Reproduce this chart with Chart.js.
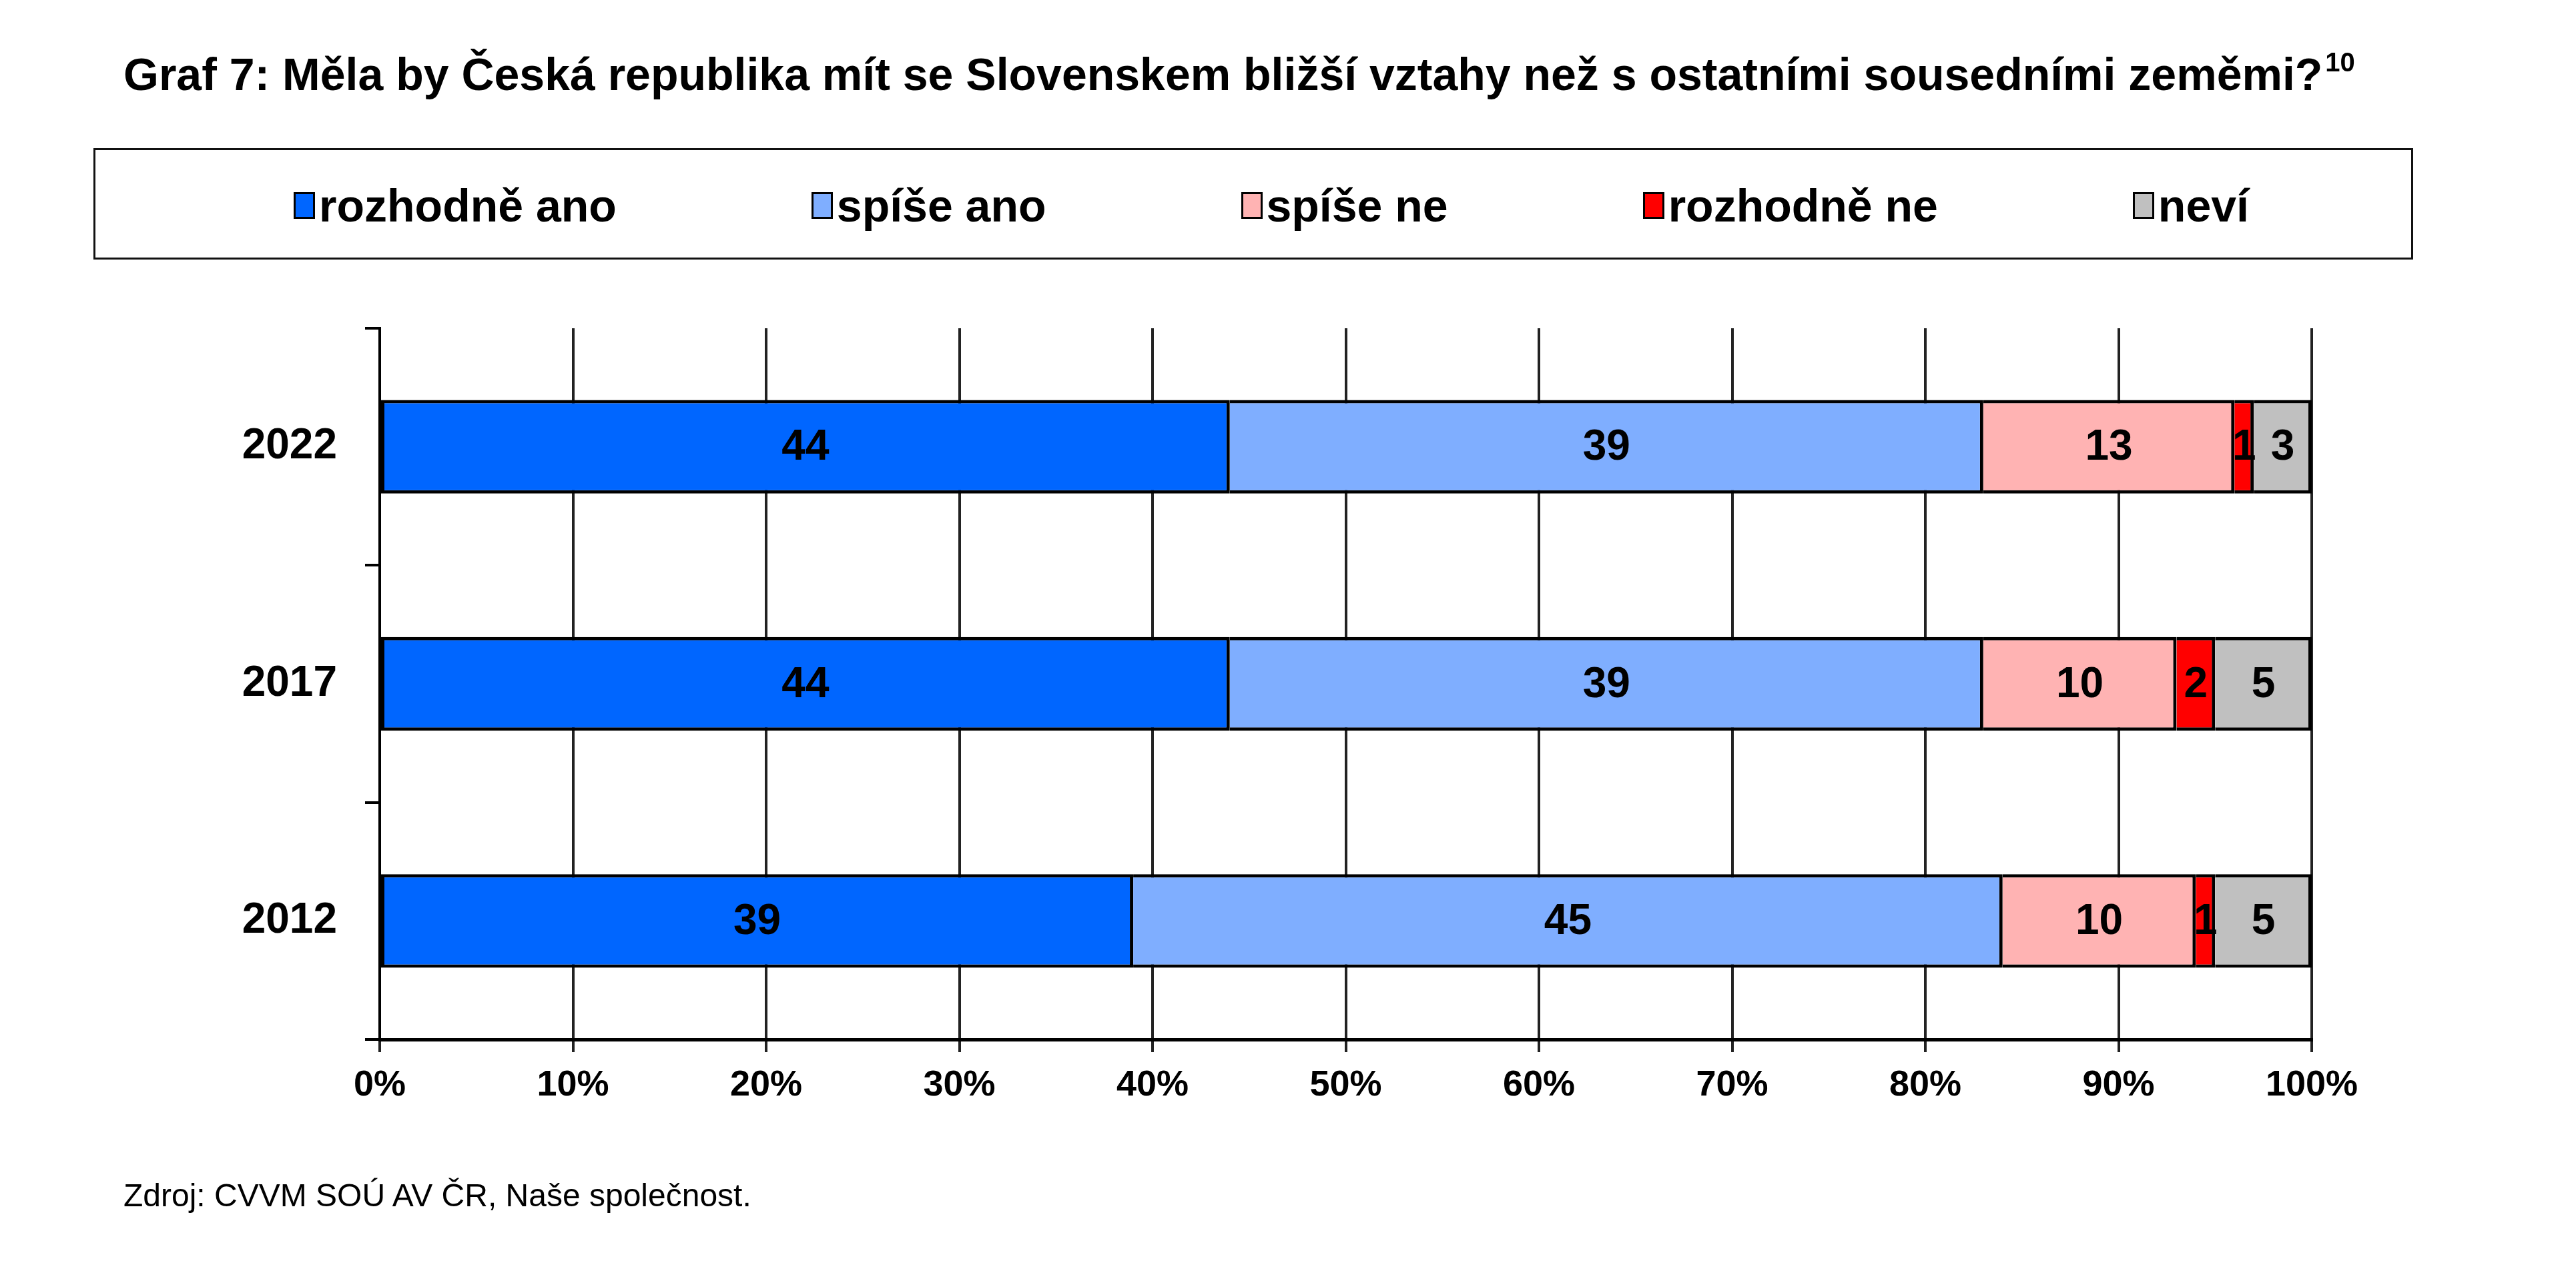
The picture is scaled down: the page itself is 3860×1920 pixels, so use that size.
<!DOCTYPE html>
<html>
<head>
<meta charset="utf-8">
<script src="https://cdn.jsdelivr.net/npm/chart.js@4"></script>
<style>
  body { margin: 0; background: #fff; font-family: "Liberation Sans", Arial, sans-serif; }
  #wrap { position: relative; width: 3860px; height: 1920px; }
  #chart { position: absolute; left: 0; top: 0; }
  #title { position: absolute; left: 185px; top: 77px; font-size: 68px; font-weight: bold; line-height: 1; white-space: nowrap; }
  #title sup { font-size: 40px; vertical-align: 28px; line-height: 0; margin-left: 4px; }
  #legend { position: absolute; left: 140px; top: 222px; width: 3476px; height: 167px; border: 3px solid #111;
            display: flex; align-items: center; justify-content: center; padding-left: 54px; padding-top: 4px; box-sizing: border-box; }
  .item { display: flex; align-items: center; font-size: 68px; font-weight: bold; margin-right: 292px; white-space: nowrap; }
  .item:last-child { margin-right: 0; }
  .box { width: 26px; height: 34px; border: 3px solid #000; margin-right: 6px; }
  #source { position: absolute; left: 185px; top: 1768px; font-size: 48px; line-height: 1; white-space: nowrap; }
</style>
</head>
<body>
<div id="wrap">
  <canvas id="chart" width="3860" height="1920"></canvas>
  <div id="title">Graf 7: Měla by Česká republika mít se Slovenskem bližší vztahy než s ostatními sousedními zeměmi?<sup>10</sup></div>
  <div id="legend"></div>
  <div id="source">Zdroj: CVVM SOÚ AV ČR, Naše společnost.</div>
</div>
<script>
const years = ['2022', '2017', '2012'];
const seriesNames = ['rozhodně ano', 'spíše ano', 'spíše ne', 'rozhodně ne', 'neví'];
const rozhodneAno = [44, 44, 39];
const spiseAno = [39, 39, 45];
const spiseNe = [13, 10, 10];
const rozhodneNe = [1, 2, 1];
const nevi = [3, 5, 5];
const colors = ['#0066FF', '#7FAEFF', '#FFB3B3', '#FF0000', '#C0C0C0'];
const tickValues = [0, 10, 20, 30, 40, 50, 60, 70, 80, 90, 100];

const allSeries = [rozhodneAno, spiseAno, spiseNe, rozhodneNe, nevi];

// legend in html, built from the same arrays
const legendEl = document.getElementById('legend');
seriesNames.forEach((name, i) => {
    const item = document.createElement('div');
    item.className = 'item';
    const box = document.createElement('div');
    box.className = 'box';
    box.style.background = colors[i];
    item.appendChild(box);
    item.appendChild(document.createTextNode(name));
    legendEl.appendChild(item);
});

const valueLabels = {
    id: 'valueLabels',
    afterDatasetsDraw(chart) {
        const ctx = chart.ctx;
        ctx.save();
        ctx.font = 'bold 64px "Liberation Sans", Arial, sans-serif';
        ctx.fillStyle = '#000';
        ctx.textAlign = 'center';
        ctx.textBaseline = 'middle';
        chart.data.datasets.forEach((ds, i) => {
            chart.getDatasetMeta(i).data.forEach((bar, j) => {
                const p = bar.getCenterPoint();
                ctx.fillText(ds.data[j], p.x, p.y + 2);
            });
        });
        ctx.restore();
    }
};

const datasets = allSeries.map((values, i) => ({
    label: seriesNames[i],
    data: values,
    backgroundColor: colors[i],
    borderColor: '#000',
    borderWidth: { top: 5, bottom: 5, right: 5, left: i === 0 ? 5 : 0 },
    borderSkipped: false,
    barPercentage: 0.395,
    categoryPercentage: 1
}));

const ctx = document.getElementById('chart').getContext('2d');
new Chart(ctx, {
    type: 'bar',
    data: { labels: years, datasets: datasets },
    plugins: [valueLabels],
    options: {
        indexAxis: 'y',
        responsive: false,
        animation: false,
        layout: { padding: { top: 492, left: 319, right: 396, bottom: 212 } },
        plugins: {
            legend: { display: false },
            tooltip: { enabled: false }
        },
        scales: {
            x: {
                stacked: true,
                min: 0,
                max: 100,
                afterBuildTicks: (scale) => { scale.ticks = tickValues.map(v => ({ value: v })); },
                afterFit: (scale) => { scale.height = 150; },
                ticks: {
                    callback: (v) => v + '%',
                    color: '#000',
                    padding: 18,
                    font: { family: '"Liberation Sans", Arial, sans-serif', size: 54, weight: 'bold' }
                },
                grid: { color: '#222', lineWidth: 4, tickLength: 19 },
                border: { color: '#000', width: 5 }
            },
            y: {
                stacked: true,
                afterFit: (scale) => { scale.width = 250; },
                ticks: {
                    color: '#000',
                    padding: 42,
                    font: { family: '"Liberation Sans", Arial, sans-serif', size: 64, weight: 'bold' }
                },
                grid: { offset: true, drawOnChartArea: false, color: '#000', lineWidth: 4, tickLength: 22 },
                border: { color: '#000', width: 4 }
            }
        }
    }
});
</script>
</body>
</html>
